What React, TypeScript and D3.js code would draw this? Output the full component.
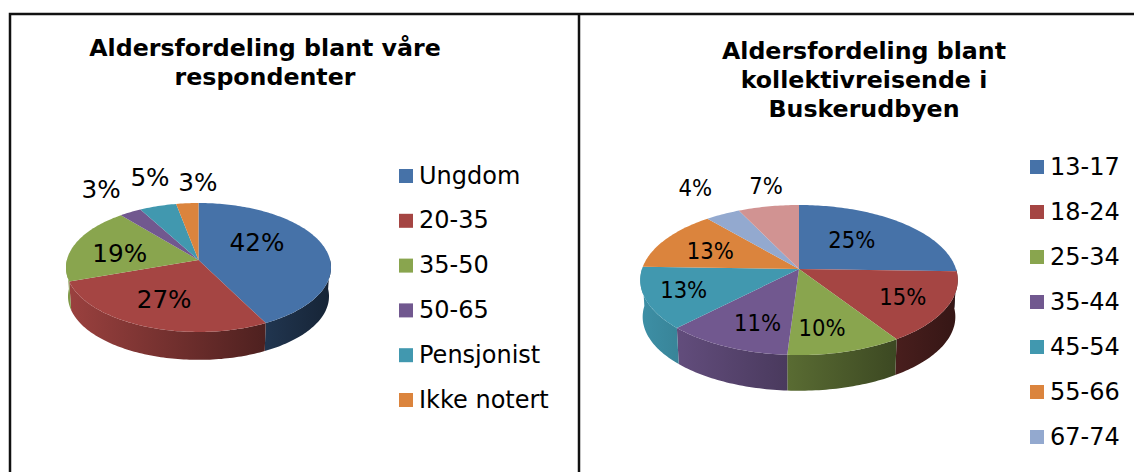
import * as d3 from "d3";

const leftTitle = ["Aldersfordeling blant våre", "respondenter"];
const leftCategories = ["Ungdom", "20-35", "35-50", "50-65", "Pensjonist", "Ikke notert"];
const leftValues = [42, 27, 19, 3, 5, 3];

const rightTitle = ["Aldersfordeling blant", "kollektivreisende i", "Buskerudbyen"];
// the last legend rows fall outside the crop, the pink slice has no visible name
const rightCategories = ["13-17", "18-24", "25-34", "35-44", "45-54", "55-66", "67-74"];
const rightValues = [25, 15, 10, 11, 13, 13, 4, 7];

const colors = ["#4672a8", "#a54543", "#89a54e", "#71588f", "#4198af", "#db843d", "#93a9cf", "#d19392"];

const width = 1134,
  height = 472;

const font = "'DejaVu Sans', Verdana, sans-serif";
const condensed = "'DejaVu Sans Condensed', 'Liberation Sans', sans-serif";

type PieLayout = {
  id: string;
  cx: number;
  cy: number;
  rx: number;
  ry: number;
  k: number;
  depth: number;
  labelFont: string;
  labelSize: number;
  outsideFrom: number;
  nudges: number[][];
};

const leftPie: PieLayout = {
  id: "l",
  cx: 198.5,
  cy: 260,
  rx: 131.6,
  ry: 63.6,
  k: 0.116,
  depth: 29,
  labelFont: font,
  labelSize: 24.7,
  outsideFrom: 3,
  nudges: [[-17, -9], [-3, 1], [-4, 3], [-14, -12], [1, -17], [13, -9]],
};

const rightPie: PieLayout = {
  id: "r",
  cx: 799,
  cy: 269,
  rx: 157,
  ry: 73.4,
  k: 0.147,
  depth: 37,
  labelFont: condensed,
  labelSize: 23.5,
  outsideFrom: 6,
  nudges: [[-11, -1], [18, 5], [-3, 12], [0, 10], [-25, 3], [-7, 0], [-11, -15], [4, -8]],
};

// circle seen in perspective, angle runs clockwise from the top
function project(p: PieLayout, a: number, r = 1, scale = 1, drop = 0): [number, number] {
  const u = Math.sin(a) * r;
  const v = -Math.cos(a) * r;
  const w = 1 - p.k * v;
  return [p.cx + (scale * p.rx * u) / w, p.cy + drop + (scale * p.ry * v) / w];
}

function arcPoints(p: PieLayout, a0: number, a1: number, scale = 1, drop = 0) {
  const n = Math.max(2, Math.ceil((a1 - a0) / 0.02));
  return d3.range(n + 1).map((i) => project(p, a0 + ((a1 - a0) * i) / n, 1, scale, drop));
}

function Pie3D({ p, values }: { p: PieLayout; values: number[] }) {
  const arcs = d3.pie<number>().sort(null)(values);
  const line = d3.line();
  const bottomScale = 0.985;

  return (
    <g>
      <defs>
        {values.map((_, i) => {
          const shade = d3.interpolateRgb(colors[i], "#000");
          return (
            <linearGradient
              key={i}
              id={`${p.id}side${i}`}
              gradientUnits="userSpaceOnUse"
              x1={p.cx - p.rx}
              x2={p.cx + p.rx}
              y1={0}
              y2={0}
            >
              <stop offset="0" stopColor={shade(0.06)} />
              <stop offset="1" stopColor={shade(0.68)} />
            </linearGradient>
          );
        })}
      </defs>
      {arcs.map((d, i) => {
        const a0 = Math.max(d.startAngle, Math.PI / 2);
        const a1 = Math.min(d.endAngle, (3 * Math.PI) / 2);
        if (a1 <= a0) return null;
        const top = arcPoints(p, a0, a1);
        const bottom = arcPoints(p, a0, a1, bottomScale, p.depth).reverse();
        return <path key={i} d={line([...top, ...bottom]) + "Z"} fill={`url(#${p.id}side${i})`} />;
      })}
      {arcs.map((d, i) => (
        <path
          key={i}
          d={line([[p.cx, p.cy], ...arcPoints(p, d.startAngle, d.endAngle)]) + "Z"}
          fill={colors[i]}
        />
      ))}
      {arcs.map((d, i) => {
        const [x, y] = project(p, (d.startAngle + d.endAngle) / 2, i >= p.outsideFrom ? 1.25 : 0.6);
        return (
          <text
            key={i}
            x={x + p.nudges[i][0]}
            y={y + p.nudges[i][1]}
            dy="0.36em"
            textAnchor="middle"
            fontFamily={p.labelFont}
            fontSize={p.labelSize}
            fill="#000"
          >
            {values[i]}%
          </text>
        );
      })}
    </g>
  );
}

function Legend({ names, x, firstY, step }: { names: string[]; x: number; firstY: number; step: number }) {
  const y = d3
    .scalePoint<string>()
    .domain(names)
    .range([firstY, firstY + step * (names.length - 1)]);
  return (
    <g>
      {names.map((name, i) => (
        <g key={name} transform={`translate(${x},${y(name)})`}>
          <rect x={0} y={-7} width={14} height={14} fill={colors[i]} />
          <text x={20} y={-1} dy="0.36em" fontFamily={font} fontSize={24} fill="#000">
            {name}
          </text>
        </g>
      ))}
    </g>
  );
}

function Title({ lines, x, firstY, step }: { lines: string[]; x: number; firstY: number; step: number }) {
  return (
    <text textAnchor="middle" fontFamily={font} fontWeight="bold" fontSize={23.7} fill="#000">
      {lines.map((t, i) => (
        <tspan key={t} x={x} y={firstY + i * step} dy="0.36em">
          {t}
        </tspan>
      ))}
    </text>
  );
}

export default function App() {
  return (
    <svg
      width={width}
      height={height}
      viewBox={`0 0 ${width} ${height}`}
      style={{ position: "absolute", left: 0, top: 0, display: "block", background: "#fff" }}
    >
      <path d={`M10,${height}V14H${width}M579,14V${height}`} fill="none" stroke="#111" strokeWidth={2.5} />
      <Title lines={leftTitle} x={265} firstY={47} step={29} />
      <Title lines={rightTitle} x={864} firstY={50} step={29} />
      <Pie3D p={leftPie} values={leftValues} />
      <Pie3D p={rightPie} values={rightValues} />
      <Legend names={leftCategories} x={399} firstY={176} step={44.8} />
      <Legend names={rightCategories} x={1030} firstY={167} step={45} />
    </svg>
  );
}
